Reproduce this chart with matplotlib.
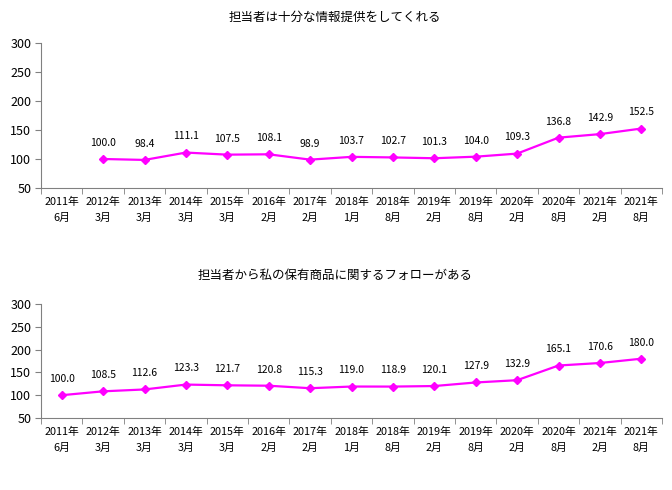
import numpy as np
import matplotlib
matplotlib.use('Agg')
import matplotlib.pyplot as plt

plt.rcParams['font.family'] = ['Noto Sans CJK JP', 'DejaVu Sans']

categories = ['2011年\n6月', '2012年\n3月', '2013年\n3月', '2014年\n3月', '2015年\n3月',
              '2016年\n2月', '2017年\n2月', '2018年\n1月', '2018年\n8月', '2019年\n2月',
              '2019年\n8月', '2020年\n2月', '2020年\n8月', '2021年\n2月', '2021年\n8月']

info_values = [None, 100.0, 98.4, 111.1, 107.5, 108.1, 98.9, 103.7, 102.7, 101.3,
               104.0, 109.3, 136.8, 142.9, 152.5]
follow_values = [100.0, 108.5, 112.6, 123.3, 121.7, 120.8, 115.3, 119.0, 118.9, 120.1,
                 127.9, 132.9, 165.1, 170.6, 180.0]

titles = ['担当者は十分な情報提供をしてくれる', '担当者から私の保有商品に関するフォローがある']

fig = plt.figure(figsize=(6.72, 4.9), dpi=100)
ax1 = fig.add_axes([41 / 672, 1 - 188 / 490, 621 / 672, 145 / 490])
ax2 = fig.add_axes([41 / 672, 1 - 418 / 490, 621 / 672, 114 / 490])

x = np.arange(len(categories))
for ax, vals in [(ax1, info_values), (ax2, follow_values)]:
    xs = [i for i, v in zip(x, vals) if v is not None]
    ys = [v for v in vals if v is not None]
    ax.plot(xs, ys, color='#FF00FF', lw=1.6, marker='D', ms=4.5)
    for xi, yi in zip(xs, ys):
        ax.annotate('%.1f' % yi, (xi, yi), xytext=(0, 8), textcoords='offset points',
                    ha='center', va='bottom', fontsize=7.5)
    ax.set_xlim(-0.5, len(categories) - 0.5)
    ax.set_ylim(50, 300)
    ax.set_yticks([50, 100, 150, 200, 250, 300])
    ax.set_xticks(x)
    ax.set_xticklabels(categories, fontsize=7.8, linespacing=1.75)
    ax.set_xticks(np.arange(-0.5, len(categories)), minor=True)
    ax.tick_params(axis='x', which='major', length=0, pad=6)
    ax.tick_params(axis='x', which='minor', length=4, color='#808080', direction='out')
    ax.tick_params(axis='y', length=4, color='#808080', labelsize=9, pad=3)
    for s in ['top', 'right']:
        ax.spines[s].set_visible(False)
    for s in ['left', 'bottom']:
        ax.spines[s].set_color('#808080')

fig.text(335 / 672, 1 - 17 / 490, titles[0], ha='center', va='center', fontsize=9)
fig.text(335 / 672, 1 - 275 / 490, titles[1], ha='center', va='center', fontsize=9)

fig.savefig('out.png', dpi=100)
